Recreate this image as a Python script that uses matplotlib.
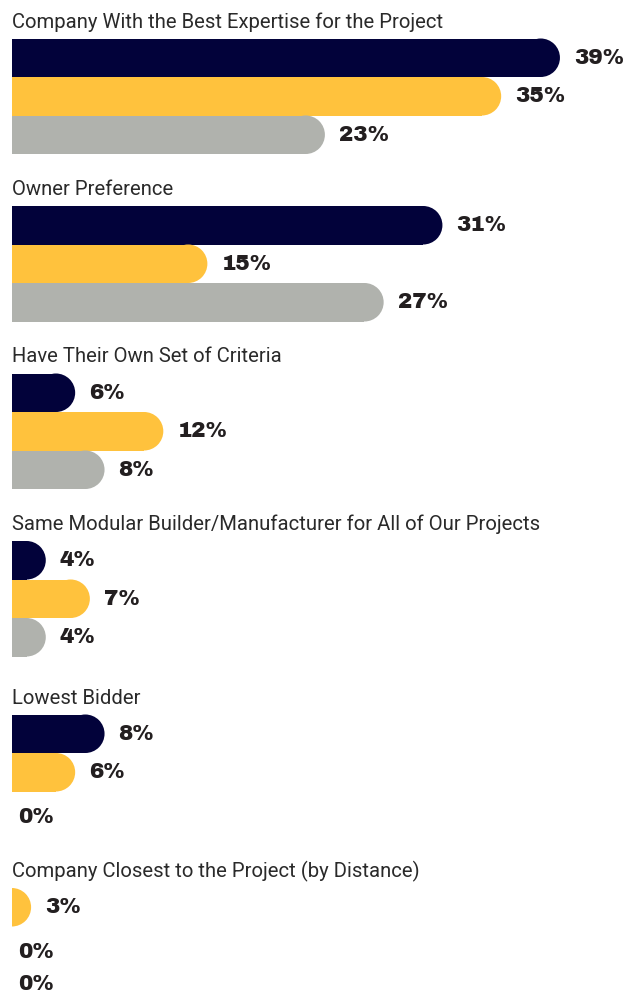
import matplotlib.pyplot as plt
from matplotlib.patches import Rectangle, Ellipse

categories = [
    "Company With the Best Expertise for the Project",
    "Owner Preference",
    "Have Their Own Set of Criteria",
    "Same Modular Builder/Manufacturer for All of Our Projects",
    "Lowest Bidder",
    "Company Closest to the Project (by Distance)",
]
navy_vals = [39, 31, 6, 4, 8, 0]
yellow_vals = [35, 15, 12, 7, 6, 3]
gray_vals = [23, 27, 8, 4, 0, 0]

colors = ["#02023a", "#ffc23d", "#b0b2ad"]
text_color = "#231f20"
title_font = ["Roboto", "DejaVu Sans"]
label_font = ["Archivo Black", "DejaVu Sans"]

W, H = 636, 994
fig = plt.figure(figsize=(W / 100, H / 100), dpi=100)
left_px = 12
ax = fig.add_axes([left_px / W, 0, 1 - left_px / W, 1])
ax.axis("off")

px_per_pct = 14.69
x0 = 1.7  # bars start off-axes so the left end is square
ax.set_xlim(x0, x0 + (W - left_px) / px_per_pct)
ax.set_ylim(H, 0)  # vertical layout in pixel rows

bar_h = 38.5
r = (bar_h / 2) / px_per_pct

series = [navy_vals, yellow_vals, gray_vals]


def label(v, y, dx):
    ax.annotate(f"{v}%", xy=(max(v, x0), y), xytext=(dx, 0), textcoords="offset pixels",
                fontsize=15.5, fontweight="bold", color=text_color,
                va="center", ha="left", family=label_font)


for g, cat in enumerate(categories):
    vals = [s[g] for s in series]
    top = 38.5 + 167.5 * g + (6 if g >= 4 else 0) + (6 if vals[0] == 0 else 0)
    ax.text(x0, top - 11, cat, fontsize=14.6, color="#2a2a2a",
            family=title_font, va="baseline", ha="left")
    y = top
    last_c = None
    for v, c in zip(vals, colors):
        if v == 0:
            continue
        ax.add_patch(Rectangle((0, y), v - r, bar_h, color=c, lw=0))
        ax.add_patch(Ellipse((v - r, y + bar_h / 2), 2 * r, bar_h, color=c, lw=0))
        last_c = y + bar_h / 2
        label(v, last_c, 14)
        y += bar_h
    step = 44.5
    for v in vals:
        if v != 0:
            continue
        last_c = last_c + step
        label(v, last_c, 6)
        step = 32

fig.savefig("out.png", dpi=100, facecolor="white")
